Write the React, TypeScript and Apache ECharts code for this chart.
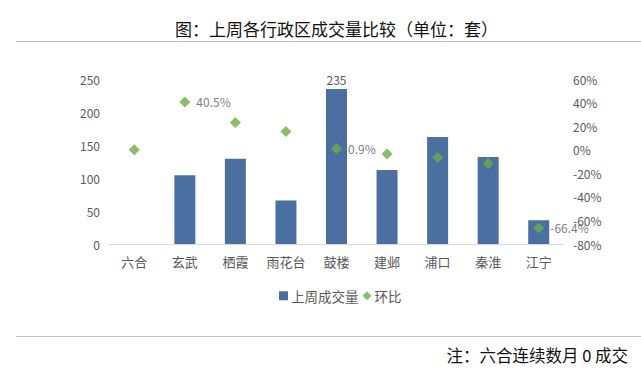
import React, { useEffect, useRef } from "react";
import * as echarts from "echarts";

const categories = ["六合", "玄武", "栖霞", "雨花台", "鼓楼", "建邺", "浦口", "秦淮", "江宁"];
const volumes = [0, 104, 129, 66, 235, 112, 162, 132, 36];
const ringRatio = [0, 40.5, 23, 15.5, 0.9, -3.7, -6.5, -11.6, -66.4];
const labeledVolume = [4];
const labeledRatio = [1, 4, 8];
const titleText = "图：上周各行政区成交量比较（单位：套）";
const noteText = "注：六合连续数月 0 成交";

const FONT = '"Noto Sans CJK SC", "Noto Sans", sans-serif';
const BAR = "#4A6FA0";
const GREEN = "#6AAF47";
const GRAY = "#595959";

export default function App() {
  const ref = useRef<HTMLDivElement>(null);
  useEffect(() => {
    if (!ref.current) return;
    const chart = echarts.init(ref.current, null, { renderer: "svg" });
    chart.setOption({
      animation: false,
      backgroundColor: "#ffffff",
      textStyle: { fontFamily: FONT },
      grid: { left: 109, right: 77, top: 79, bottom: 127, containLabel: false },
      legend: {
        data: [
          { name: "上周成交量", icon: "rect" },
          { name: "环比", icon: "diamond" },
        ],
        top: 284,
        left: 274,
        itemWidth: 9,
        itemHeight: 9,
        itemGap: 4,
        textStyle: { color: GRAY, fontSize: 13.5, fontFamily: FONT, padding: [0, 0, 0, -2] },
      },
      xAxis: {
        type: "category",
        data: categories,
        axisLine: { show: true, lineStyle: { color: "#D9D9D9", width: 1 } },
        axisTick: { show: false },
        axisLabel: { color: GRAY, fontSize: 13, margin: 11, interval: 0, fontFamily: FONT },
      },
      yAxis: [
        {
          type: "value",
          min: 0,
          max: 250,
          interval: 50,
          axisLine: { show: false },
          axisTick: { show: false },
          splitLine: { show: false },
          axisLabel: { color: GRAY, fontSize: 12, margin: 9, fontFamily: FONT },
        },
        {
          type: "value",
          min: -80,
          max: 60,
          interval: 20,
          axisLine: { show: false },
          axisTick: { show: false },
          splitLine: { show: false },
          axisLabel: { color: GRAY, fontSize: 12, margin: 9, formatter: "{value}%", fontFamily: FONT },
        },
      ],
      series: [
        {
          name: "上周成交量",
          type: "bar",
          barWidth: 21,
          itemStyle: { color: BAR },
          data: volumes.map((v, i) => ({
            value: v,
            label: {
              show: labeledVolume.includes(i),
              position: "top",
              distance: 3,
              color: GRAY,
              fontSize: 12,
              fontFamily: FONT,
            },
          })),
        },
        {
          name: "环比",
          type: "scatter",
          yAxisIndex: 1,
          symbol: "diamond",
          symbolSize: 11,
          itemStyle: { color: GREEN },
          data: ringRatio.map((v, i) => ({
            value: v,
            label: {
              show: labeledRatio.includes(i),
              position: "right",
              distance: 6,
              color: GRAY,
              fontSize: 12,
              fontFamily: FONT,
              formatter: (p: any) => p.value + "%",
            },
          })),
        },
      ],
      graphic: [
        {
          type: "text",
          left: 175,
          top: 20,
          style: { text: titleText, fill: "#111", fontSize: 17, fontFamily: FONT },
        },
        {
          type: "line",
          shape: { x1: 16, y1: 41.5, x2: 641, y2: 41.5 },
          style: { stroke: "#C0C0C0", lineWidth: 1 },
        },
        {
          type: "line",
          shape: { x1: 16, y1: 336.5, x2: 641, y2: 336.5 },
          style: { stroke: "#C0C0C0", lineWidth: 1 },
        },
        {
          type: "text",
          right: 13,
          top: 347,
          style: { text: noteText, fill: "#111", fontSize: 16.5, fontFamily: FONT },
        },
      ],
    });
    return () => chart.dispose();
  }, []);
  return (
    <div
      ref={ref}
      style={{ position: "fixed", left: 0, top: 0, width: 641, height: 371, background: "#fff" }}
    />
  );
}
